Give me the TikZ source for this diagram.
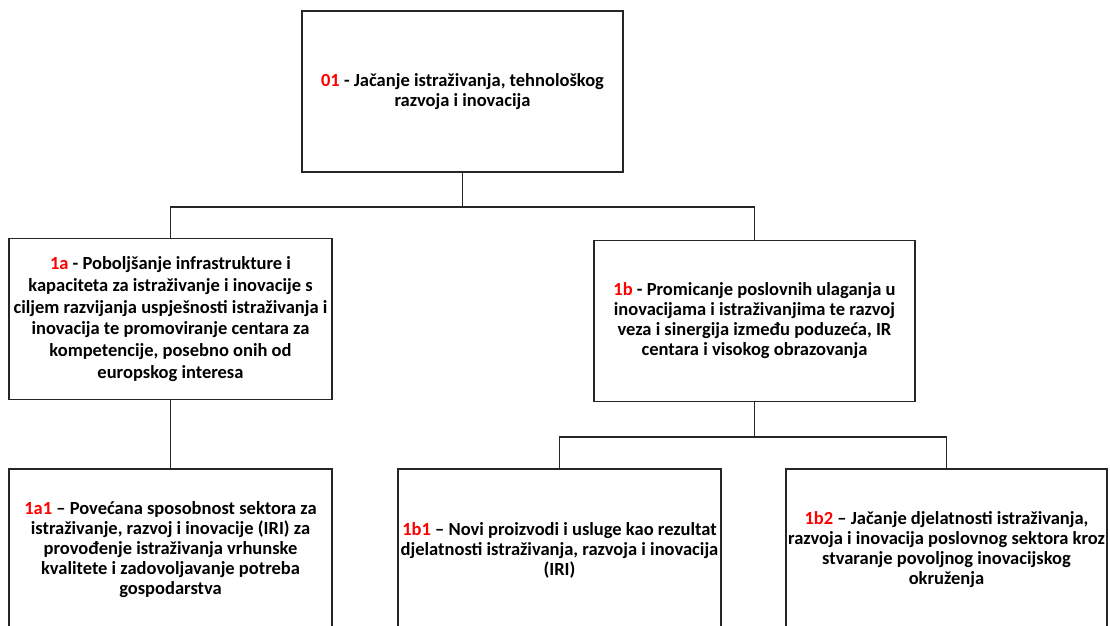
\documentclass[tikz,border=0pt]{standalone}
\usepackage{fontspec}
\setmainfont{Carlito}
\usepackage{xcolor}
\usetikzlibrary{positioning}
\definecolor{CodeRed}{HTML}{FF0000}
\definecolor{EdgeInk}{HTML}{262626}
\newcommand{\goalcode}[1]{\textcolor{CodeRed}{#1}}

\begin{document}
\begin{tikzpicture}[x=1pt,y=-1pt,font=\fontsize{18.5}{20}\selectfont\bfseries,goalbox/.style={draw=EdgeInk,fill=white,line width=1.2pt,minimum width=321pt,minimum height=161pt,align=center,inner sep=2pt},link/.style={draw=EdgeInk,line width=1.2pt}]
\useasboundingbox (0,0) rectangle (1110,625);
\fill[white] (0,0) rectangle (1110,625);
\clip (0,0) rectangle (1110,625);
% priority axis
\node[goalbox] (o1) at (462.5,91.5) {\goalcode{01} - Jačanje istraživanja, tehnološkog\\razvoja i inovacija};
% specific objectives
\node[goalbox,minimum width=323pt,font=\fontsize{18.5}{21.7}\selectfont\bfseries] (s1a) at (170.5,319) {\goalcode{1a} - Poboljšanje infrastrukture i\\kapaciteta za istraživanje i inovacije s\\ciljem razvijanja uspješnosti istraživanja i\\inovacija te promoviranje centara za\\kompetencije, posebno onih od\\europskog interesa};
\node[goalbox] (s1b) at (754.5,321) {\goalcode{1b} - Promicanje poslovnih ulaganja u\\inovacijama i istraživanjima te razvoj\\veza i sinergija između poduzeća, IR\\centara i visokog obrazovanja};
% results
\node[goalbox,minimum width=323pt,minimum height=162pt] (r1a1) at (170.5,550) {\goalcode{1a1} – Povećana sposobnost sektora za\\istraživanje, razvoj i inovacije (IRI) za\\provođenje istraživanja vrhunske\\kvalitete i zadovoljavanje potreba\\gospodarstva};
\node[goalbox,minimum width=323pt,minimum height=162pt] (r1b1) at (559.5,550) {\goalcode{1b1} – Novi proizvodi i usluge kao rezultat\\djelatnosti istraživanja, razvoja i inovacija\\(IRI)};
\node[goalbox,minimum width=319pt,minimum height=162pt] (r1b2) at (946.5,550) {\goalcode{1b2} – Jačanje djelatnosti istraživanja,\\razvoja i inovacija poslovnog sektora kroz\\stvaranje povoljnog inovacijskog\\okruženja};
% connectors
\coordinate (fork1) at (462.5,207);
\coordinate (fork2) at (754.5,437);
\draw[link] (o1.south) -- (fork1);
\draw[link] (fork1) -| (s1a.north);
\draw[link] (fork1) -| (s1b.north);
\draw[link] (s1a.south) -- (r1a1.north);
\draw[link] (s1b.south) -- (fork2);
\draw[link] (fork2) -| (r1b1.north);
\draw[link] (fork2) -| (r1b2.north);
\end{tikzpicture}
\end{document}
